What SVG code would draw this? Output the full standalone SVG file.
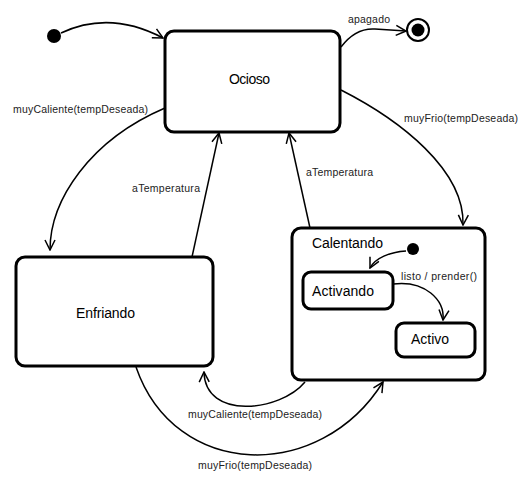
<svg xmlns="http://www.w3.org/2000/svg" width="523" height="478" viewBox="0 0 523 478">
<style>
.st{fill:#fff;stroke:#000;stroke-width:3}
.cn{fill:none;stroke:#000;stroke-width:1.5;marker-end:url(#ah)}
.lb{font-family:"Liberation Sans",Arial,sans-serif;font-size:10.5px;fill:#222}
.nm{font-family:"Liberation Sans",Arial,sans-serif;font-size:14px;fill:#000}
</style>
<defs>
<marker id="ah" viewBox="0 0 12 12" refX="11" refY="6" markerWidth="12" markerHeight="12" markerUnits="userSpaceOnUse" orient="auto">
<path d="M1 1 L11 6 L1 11" fill="none" stroke="#000" stroke-width="1.5"/>
</marker>
</defs>
<rect width="523" height="478" fill="#fff"/>
<g id="initial"><circle cx="54" cy="36" r="7" fill="#000"/></g>
<g id="final"><circle cx="418" cy="30" r="11" fill="#fff" stroke="#000" stroke-width="2"/><circle cx="418" cy="30" r="6.5" fill="#000"/></g>
<g id="ocioso"><rect class="st" x="165" y="31" width="175" height="101" rx="9"/><text class="nm" x="229" y="84" textLength="41">Ocioso</text></g>
<g id="enfriando"><rect class="st" x="16" y="257" width="197" height="109" rx="9"/><text class="nm" x="76" y="318" textLength="59">Enfriando</text></g>
<g id="calentando"><rect class="st" x="292" y="228" width="193" height="152" rx="9"/><text class="nm" x="312" y="248" textLength="71">Calentando</text></g>
<g id="initial2"><circle cx="413" cy="249" r="6" fill="#000"/></g>
<g id="activando"><rect class="st" x="303" y="272" width="90" height="37" rx="8"/><text class="nm" x="312" y="296" textLength="62">Activando</text></g>
<g id="activo"><rect class="st" x="396" y="323" width="79" height="34" rx="8"/><text class="nm" x="411" y="344" textLength="38">Activo</text></g>
<g id="connectors">
<path class="cn" d="M61 33 Q110 10 163 38"/>
<path class="cn" d="M341 47 C350 35 360 28 375 29 L406 31"/>
<path class="cn" d="M165 108 C90 140 50 200 50 250"/>
<path class="cn" d="M341 90 C400 120 465 170 463 225"/>
<path class="cn" d="M192 257 L219 133"/>
<path class="cn" d="M310 228 L289 133"/>
<path class="cn" d="M305 382 C280 412 205 420 204 372"/>
<path class="cn" d="M136 367 C175 480 320 483 383 382"/>
<path class="cn" d="M406 251 C390 252 375 258 370 268"/>
<path class="cn" d="M393 284 C425 280 445 300 443 320"/>
</g>
<g id="labels">
<text class="lb" x="348" y="23" textLength="42">apagado</text>
<text class="lb" x="13" y="113" textLength="135">muyCaliente(tempDeseada)</text>
<text class="lb" x="404" y="122" textLength="114">muyFrio(tempDeseada)</text>
<text class="lb" x="132" y="192" textLength="68">aTemperatura</text>
<text class="lb" x="306" y="176" textLength="67">aTemperatura</text>
<text class="lb" x="401" y="280" textLength="76">listo / prender()</text>
<text class="lb" x="188" y="418" textLength="134">muyCaliente(tempDeseada)</text>
<text class="lb" x="198" y="469" textLength="114">muyFrio(tempDeseada)</text>
</g>
</svg>
